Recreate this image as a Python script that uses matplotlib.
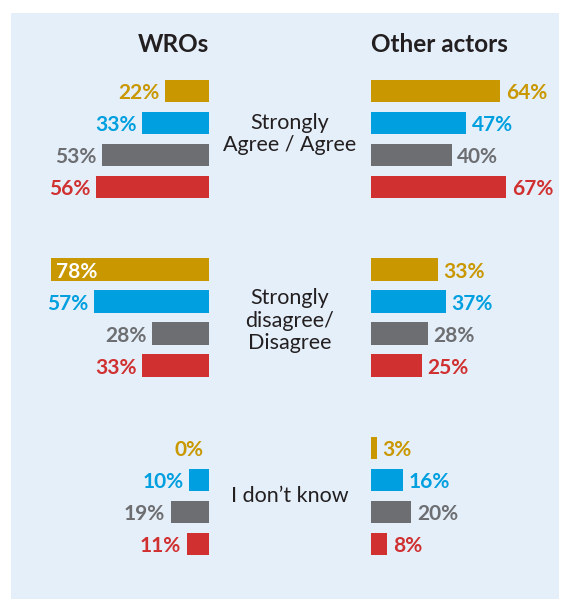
import matplotlib
matplotlib.use("Agg")
import matplotlib.pyplot as plt
from matplotlib.patches import Rectangle

plt.rcParams['font.family'] = ['Lato', 'DejaVu Sans']

categories = ["Strongly\nAgree / Agree", "Strongly\ndisagree/\nDisagree", "I don\u2019t know"]
series_colors = ["#c99700", "#009fdf", "#6d6e71", "#d03030"]
wros = [[22, 33, 53, 56], [78, 57, 28, 33], [0, 10, 19, 11]]
others = [[64, 47, 40, 67], [33, 37, 28, 25], [3, 16, 20, 8]]
titles = ["WROs", "Other actors"]

W, H = 566, 599
fig = plt.figure(figsize=(W / 100, H / 100), dpi=100)
fig.patch.set_facecolor("white")
fig.patches.append(Rectangle((11 / W, 0), (559 - 11) / W, (H - 13) / H,
                             transform=fig.transFigure, facecolor="#e5eff9",
                             edgecolor="none", zorder=-5))

pxpp = 2.02  # pixels per percent
unit = 32.0  # pixels per row
y0 = 91.0
pitch = 5.58
bar_h = 0.71

def fx(px):
    return px / W

ylim = ((H - y0) / unit, -y0 / unit)

axL = fig.add_axes([fx(209 - 100 * pxpp), 0, fx(100 * pxpp), 1])
axR = fig.add_axes([fx(371), 0, fx(100 * pxpp), 1])
axL.set_xlim(100, 0)
axR.set_xlim(0, 100)
for ax in (axL, axR):
    ax.set_ylim(*ylim)
    ax.axis("off")
    ax.patch.set_alpha(0)

lab_fs = 15
for g in range(3):
    for i in range(4):
        y = g * pitch + i
        c = series_colors[i]
        v = wros[g][i]
        axL.barh(y, v, height=bar_h, color=c, zorder=2)
        if v >= 60:
            axL.annotate(f"{v}%", (v, y), xytext=(3, 0), textcoords="offset points",
                         ha="left", va="center_baseline", color="white",
                         fontsize=lab_fs, fontweight="bold")
        else:
            axL.annotate(f"{v}%", (v, y), xytext=(-4, 0), textcoords="offset points",
                         ha="right", va="center_baseline", color=c,
                         fontsize=lab_fs, fontweight="bold")
        v2 = others[g][i]
        axR.barh(y, v2, height=bar_h, color=c, zorder=2)
        axR.annotate(f"{v2}%", (v2, y), xytext=(4, 0), textcoords="offset points",
                     ha="left", va="center_baseline", color=c,
                     fontsize=lab_fs, fontweight="bold")
    ycat = g * pitch + 1.5 + [-0.15, 0.1, 0.0][g]
    fig.text(fx(290), 1 - (y0 + ycat * unit) / H, categories[g], ha="center",
             va="center", fontsize=15.5, color="#231f20", linespacing=1.15)

fig.text(fx(209), 1 - 44 / H, titles[0], ha="right", va="center",
         fontsize=17.5, fontweight="bold", color="#231f20")
fig.text(fx(371), 1 - 44 / H, titles[1], ha="left", va="center",
         fontsize=17.5, fontweight="bold", color="#231f20")

fig.savefig("out.png", dpi=100)
